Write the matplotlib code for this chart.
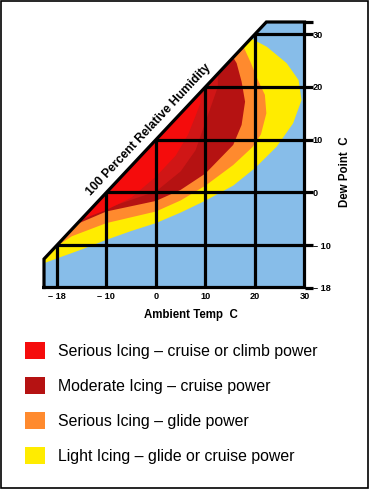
"""
Carburettor icing chart: icing risk bands over ambient temp / dew point.
"""
import numpy as np
import matplotlib
matplotlib.use('Agg')
import matplotlib.pyplot as plt
from matplotlib.patches import Polygon, Patch, Rectangle

plt.rcParams['font.family'] = ['Liberation Sans', 'DejaVu Sans']

# chart frame, in (ambient temp, dew point) units as drawn
t_min, t_max = -22.6, 30
d_min, d_max = -18, 32.3
rh_offset = 10      # the 100 % RH edge sits at dew = temp + 10 on this drawing
tick_end = 31.7

grid_t = [-20, -10, 0, 10, 20]
grid_d = [-10, 0, 10, 20, 30]
x_ticks = [-20, -10, 0, 10, 20, 30]
x_labels = ['– 18', '– 10', '0', '10', '20', '30']
y_ticks = [30, 20, 10, 0, -10, -18]
y_labels = ['30', '20', '10', '0', '– 10', '– 18']

# band outlines (temp, dew), outer to inner
light_t = [-25, -22.6, -20.3, -15, -10.1, -5, 0, 5, 10.1, 15.6, 20.1, 24.4, 27.7, 29.4, 28.8, 26.4, 22.4, 19, 16]
light_d = [-14.2, -13.4, -12.6, -10.8, -9.0, -7.3, -5.8, -3.8, -1.5, 1.3, 4.7, 8.7, 13.1, 17.5, 21.3, 24.5, 27.6, 29.3, 31]
glide_t = [-21, -17, -10, -5, 0, 5, 10, 15.6, 19.5, 21.2, 22.3, 22.0, 20.5, 19.2, 17.5]
glide_d = [-10.8, -8.3, -5.8, -4.7, -3.6, -1.5, 1.3, 5.2, 8.6, 11, 15, 18.5, 21.5, 24.5, 28]
moderate_t = [-16.5, -15, -10, -5, 0, 5, 10, 15.6, 17.3, 18.0, 17.3, 16.3, 15]
moderate_d = [-6.2, -5.6, -3.6, -2.6, -1.6, 0.5, 3.6, 9.0, 12.8, 17.2, 21, 24.5, 26.5]
mid_t = [-12, -10, -5, 0, 5, 8, 9.5, 11, 12.5, 12.5]
mid_d = [-1.8, -3.0, -1.4, 0.2, 4.0, 8, 12, 16, 20, 23.5]
serious_t = [-16, -14.7, -10, -5, 0, 4, 6.5, 8, 9, 9]
serious_d = [-5.8, -5.0, -3.3, -1.0, 3.0, 7, 11, 14.5, 17, 20]

blue = '#87bde9'
red = '#f50c0c'
mid_red = '#d01616'
dark_red = '#b51212'
orange = '#ff8a2e'
yellow = '#ffec00'

legend_labels = ['Serious Icing – cruise or climb power',
                 'Moderate Icing – cruise power',
                 'Serious Icing – glide power',
                 'Light Icing – glide or cruise power']
legend_colors = [red, dark_red, orange, yellow]

fig = plt.figure(figsize=(3.7, 4.9), dpi=100)
ax = fig.add_axes([44 / 370, 1 - 287.5 / 490, 260.5 / 370, 265.5 / 490])
ax.set_xlim(t_min, t_max)
ax.set_ylim(d_min, d_max)
ax.patch.set_visible(False)
for s in ax.spines.values():
    s.set_visible(False)

frame_t = [t_min, t_max, t_max, d_max - rh_offset, t_min]
frame_d = [d_min, d_min, d_max, d_max, t_min + rh_offset]
frame = Polygon(np.column_stack([frame_t, frame_d]), closed=True,
                facecolor=blue, edgecolor='none', zorder=1)
ax.add_patch(frame)

bands = [(light_t, light_d, yellow), (glide_t, glide_d, orange),
         (moderate_t, moderate_d, dark_red), (mid_t, mid_d, mid_red),
         (serious_t, serious_d, red)]
for bt, bd, c in bands:
    poly = ax.fill(bt + [-40], bd + [60], color=c, lw=0, zorder=2)[0]
    poly.set_clip_path(frame)

lw = 2.3
ax.vlines(grid_t, d_min, np.array(grid_t) + rh_offset, colors='k', lw=lw, zorder=3)
ax.hlines(grid_d, np.array(grid_d) - rh_offset, tick_end, colors='k', lw=lw,
          zorder=3, clip_on=False)
ax.hlines([d_min, d_max], t_max, tick_end, colors='k', lw=lw, zorder=3, clip_on=False)
ax.plot(frame_t + [t_min], frame_d + [d_min], color='k', lw=lw, zorder=4,
        clip_on=False, solid_joinstyle='miter')

ax.set_xticks(x_ticks, x_labels, fontweight='bold', fontsize=6.6)
ax.tick_params(axis='x', length=0, pad=3)
ax.yaxis.tick_right()
ax.set_yticks(y_ticks, y_labels, fontweight='bold', fontsize=6.6)
ax.tick_params(axis='y', length=0, pad=6)

ax.set_xlabel('Ambient Temp  C', fontweight='bold', fontsize=8.3)
ax.xaxis.set_label_coords((191 - 44) / 260.5, (287.5 - 309) / 265.5)
ax.yaxis.set_label_position('right')
ax.set_ylabel('Dew Point  C', fontweight='bold', fontsize=8.3, rotation=90)
ax.yaxis.set_label_coords((339 - 44) / 260.5, (287.5 - 172) / 265.5)

# label along the 100 % RH edge
p0 = ax.transData.transform((-10, 0))
p1 = ax.transData.transform((10, 20))
angle = np.degrees(np.arctan2(p1[1] - p0[1], p1[0] - p0[0]))
ax.text(-1.4, 11.9, '100 Percent Relative Humidity', rotation=angle,
        rotation_mode='anchor', ha='center', va='center',
        fontweight='bold', fontsize=8.8, zorder=5)

handles = [Patch(facecolor=c, edgecolor='none') for c in legend_colors]
fig.legend(handles, legend_labels, loc='upper left',
           bbox_to_anchor=(25 / 370, 1 - 342 / 490), frameon=False,
           fontsize=11.4, handlelength=1.26, handleheight=1.26,
           handletextpad=0.85, labelspacing=1.15, borderpad=0, borderaxespad=0)

fig.patches.append(Rectangle((0.6 / 370, 2.0 / 490), 367.2 / 370, 487.2 / 490,
                             transform=fig.transFigure, fill=False,
                             edgecolor='k', lw=1.2))

fig.savefig('out.png', dpi=100)
